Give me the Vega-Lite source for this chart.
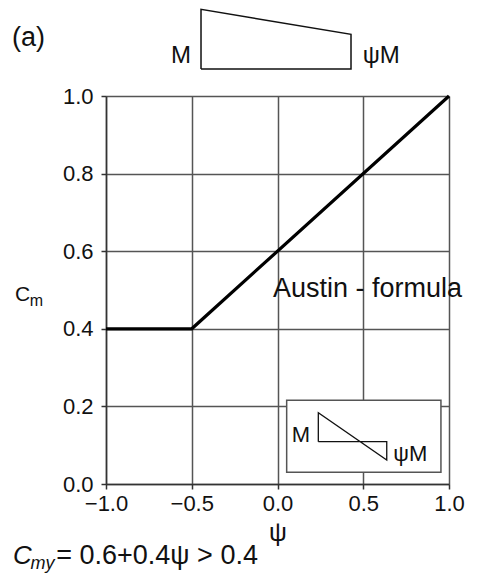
{
  "$schema": "https://vega.github.io/schema/vega-lite/v6.json",
  "autosize": "none",
  "width": 343,
  "height": 388,
  "padding": {"left": 106, "top": 96, "right": 42, "bottom": 93},
  "background": "white",
  "config": {
    "view": {"stroke": null},
    "font": "Liberation Sans",
    "axis": {
      "grid": true,
      "gridColor": "#555",
      "gridWidth": 1.5,
      "domainColor": "#333",
      "domainWidth": 1.5,
      "tickColor": "#333",
      "tickWidth": 1.5,
      "tickSize": 5,
      "labelFont": "Liberation Sans",
      "labelFontSize": 22,
      "labelColor": "#111",
      "titleFont": "Liberation Sans",
      "titleColor": "#111",
      "titleFontWeight": "normal"
    }
  },
  "datasets": {
    "curve": [
      {"psi": -1.0, "cm": 0.4},
      {"psi": -0.5, "cm": 0.4},
      {"psi": 1.0, "cm": 1.0}
    ],
    "trap": [
      {"px": -0.446, "py": 1.0696, "k": 0},
      {"px": -0.446, "py": 1.2234, "k": 1},
      {"px": 0.4286, "py": 1.159, "k": 2},
      {"px": 0.4286, "py": 1.0696, "k": 3},
      {"px": -0.446, "py": 1.0696, "k": 4}
    ],
    "inset": [
      {"px": 0.238, "py": 0.109, "k": 0},
      {"px": 0.238, "py": 0.1838, "k": 1},
      {"px": 0.637, "py": 0.0619, "k": 2},
      {"px": 0.637, "py": 0.109, "k": 3},
      {"px": 0.238, "py": 0.109, "k": 4}
    ],
    "box": [
      {"x1": 0.0535, "x2": 0.953, "y1": 0.0302, "y2": 0.2157}
    ]
  },
  "layer": [
    {
      "data": {"name": "box"},
      "mark": {"type": "rect", "fill": "white", "stroke": "#555", "strokeWidth": 1.5},
      "encoding": {
        "x": {"field": "x1", "type": "quantitative", "scale": {"domain": [-1, 1], "nice": false},
          "axis": {"values": [-1, -0.5, 0, 0.5, 1], "format": ".1f", "title": "ψ", "titleFontSize": 25, "titlePadding": 6, "labelPadding": 4, "labelFlush": false}},
        "x2": {"field": "x2"},
        "y": {"field": "y1", "type": "quantitative", "scale": {"domain": [0, 1], "nice": false, "zero": false},
          "axis": {"values": [0, 0.2, 0.4, 0.6, 0.8, 1.0], "format": ".1f", "title": null, "labelPadding": 8, "labelFlush": false}},
        "y2": {"field": "y2"}
      }
    },
    {
      "data": {"name": "curve"},
      "mark": {"type": "line", "color": "black", "strokeWidth": 3.2, "clip": false},
      "encoding": {
        "x": {"field": "psi", "type": "quantitative"},
        "y": {"field": "cm", "type": "quantitative"}
      }
    },
    {
      "data": {"name": "trap"},
      "mark": {"type": "line", "color": "#111", "strokeWidth": 1.5, "clip": false},
      "encoding": {
        "x": {"field": "px", "type": "quantitative"},
        "y": {"field": "py", "type": "quantitative"},
        "order": {"field": "k"}
      }
    },
    {
      "data": {"name": "inset"},
      "mark": {"type": "line", "color": "#111", "strokeWidth": 1.3, "clip": false},
      "encoding": {
        "x": {"field": "px", "type": "quantitative"},
        "y": {"field": "py", "type": "quantitative"},
        "order": {"field": "k"}
      }
    },
    {
      "data": {"values": [
        {"tx": -1.548, "ty": 1.128, "t": "(a)"}
      ]},
      "mark": {"type": "text", "align": "left", "baseline": "alphabetic", "fontSize": 27, "font": "Liberation Sans", "color": "#111", "clip": false},
      "encoding": {
        "x": {"field": "tx", "type": "quantitative"},
        "y": {"field": "ty", "type": "quantitative"},
        "text": {"field": "t"}
      }
    },
    {
      "data": {"values": [
        {"tx": -0.621, "ty": 1.086, "t": "M"},
        {"tx": 0.497, "ty": 1.086, "t": "ψM"}
      ]},
      "mark": {"type": "text", "align": "left", "baseline": "alphabetic", "fontSize": 24, "font": "Liberation Sans", "color": "#111", "clip": false},
      "encoding": {
        "x": {"field": "tx", "type": "quantitative"},
        "y": {"field": "ty", "type": "quantitative"},
        "text": {"field": "t"}
      }
    },
    {
      "data": {"values": [
        {"tx": 0.0828, "ty": 0.109, "t": "M"},
        {"tx": 0.675, "ty": 0.060, "t": "ψM"}
      ]},
      "mark": {"type": "text", "align": "left", "baseline": "alphabetic", "fontSize": 22, "font": "Liberation Sans", "color": "#111", "clip": false},
      "encoding": {
        "x": {"field": "tx", "type": "quantitative"},
        "y": {"field": "ty", "type": "quantitative"},
        "text": {"field": "t"}
      }
    },
    {
      "data": {"values": [
        {"tx": -0.0262, "ty": 0.482, "t": "Austin - formula"}
      ]},
      "mark": {"type": "text", "align": "left", "baseline": "alphabetic", "fontSize": 27, "font": "Liberation Sans", "color": "#111", "clip": false},
      "encoding": {
        "x": {"field": "tx", "type": "quantitative"},
        "y": {"field": "ty", "type": "quantitative"},
        "text": {"field": "t"}
      }
    },
    {
      "data": {"values": [
        {"tx": -1.531, "ty": 0.4716, "t": "C"}
      ]},
      "mark": {"type": "text", "align": "left", "baseline": "alphabetic", "fontSize": 21, "font": "Liberation Sans", "color": "#111", "clip": false},
      "encoding": {
        "x": {"field": "tx", "type": "quantitative"},
        "y": {"field": "ty", "type": "quantitative"},
        "text": {"field": "t"}
      }
    },
    {
      "data": {"values": [
        {"tx": -1.445, "ty": 0.4588, "t": "m"}
      ]},
      "mark": {"type": "text", "align": "left", "baseline": "alphabetic", "fontSize": 16, "font": "Liberation Sans", "color": "#111", "clip": false},
      "encoding": {
        "x": {"field": "tx", "type": "quantitative"},
        "y": {"field": "ty", "type": "quantitative"},
        "text": {"field": "t"}
      }
    },
    {
      "data": {"values": [
        {"tx": -1.542, "ty": -0.206, "t": "C"}
      ]},
      "mark": {"type": "text", "align": "left", "baseline": "alphabetic", "fontSize": 26, "fontStyle": "italic", "font": "Liberation Sans", "color": "#111", "clip": false},
      "encoding": {
        "x": {"field": "tx", "type": "quantitative"},
        "y": {"field": "ty", "type": "quantitative"},
        "text": {"field": "t"}
      }
    },
    {
      "data": {"values": [
        {"tx": -1.44, "ty": -0.219, "t": "my"}
      ]},
      "mark": {"type": "text", "align": "left", "baseline": "alphabetic", "fontSize": 18, "fontStyle": "italic", "font": "Liberation Sans", "color": "#111", "clip": false},
      "encoding": {
        "x": {"field": "tx", "type": "quantitative"},
        "y": {"field": "ty", "type": "quantitative"},
        "text": {"field": "t"}
      }
    },
    {
      "data": {"values": [
        {"tx": -1.29, "ty": -0.206, "t": "= 0.6+0.4ψ > 0.4"}
      ]},
      "mark": {"type": "text", "align": "left", "baseline": "alphabetic", "fontSize": 27, "font": "Liberation Sans", "color": "#111", "clip": false},
      "encoding": {
        "x": {"field": "tx", "type": "quantitative"},
        "y": {"field": "ty", "type": "quantitative"},
        "text": {"field": "t"}
      }
    }
  ]
}
